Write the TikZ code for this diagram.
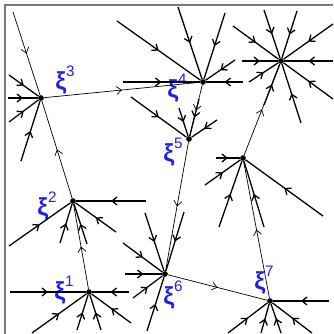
\documentclass[tikz,border=0pt]{standalone}
\usepackage{fontspec}
\setmainfont{Liberation Sans}
\usetikzlibrary{arrows.meta,decorations.markings}
\definecolor{labelblue}{HTML}{1E1EF0}
\definecolor{framegray}{HTML}{7A7A7A}

\begin{document}
\begin{tikzpicture}[x=0.3mm, y=-0.3mm,
    dot/.style={circle,fill,inner sep=0pt,minimum size=1.7mm},
    midarrow/.style={postaction={decorate},
      decoration={markings,mark=at position 0.5 with {\arrow{Straight Barb[length=1.5mm,width=2.4mm]}}}},
    link/.style={midarrow,line width=0.6pt},
    flow/.style={midarrow,line width=1.1pt},
    lbl/.style={text=labelblue,font=\fontsize{21}{21}\selectfont\bfseries,inner sep=0pt}]
    \useasboundingbox (0,0) rectangle (333,334);
    \draw[framegray,line width=0.9pt] (5,334) -- (5,5) -- (333,5);

    % equilibria
    \node[dot] (xi1) at (89,292) {};
    \node[dot] (xi2) at (73,201) {};
    \node[dot] (xi3) at (41,98) {};
    \node[dot] (xi4) at (203,82) {};
    \node[dot] (xi5) at (189,139) {};
    \node[dot] (xi6) at (165,274) {};
    \node[dot] (xi7) at (270,301) {};
    \node[dot] (q1) at (243,158) {};
    \node[dot] (q2) at (281,61) {};

    % labels
    \node[lbl] (lab1) at (64,290) {ξ\raisebox{1.0ex}{\fontsize{13}{13}\selectfont\mdseries 1}};
    \node[lbl] (lab2) at (47,206) {ξ\raisebox{1.0ex}{\fontsize{13}{13}\selectfont\mdseries 2}};
    \node[lbl] (lab3) at (65,80) {ξ\raisebox{1.0ex}{\fontsize{13}{13}\selectfont\mdseries 3}};
    \node[lbl] (lab4) at (177,88) {ξ\raisebox{1.0ex}{\fontsize{13}{13}\selectfont\mdseries 4}};
    \node[lbl] (lab5) at (173,152) {ξ\raisebox{1.0ex}{\fontsize{13}{13}\selectfont\mdseries 5}};
    \node[lbl] (lab6) at (173,295) {ξ\raisebox{1.0ex}{\fontsize{13}{13}\selectfont\mdseries 6}};
    \node[lbl] (lab7) at (264,280) {ξ\raisebox{1.0ex}{\fontsize{13}{13}\selectfont\mdseries 7}};

    % heteroclinic links
    \coordinate (top) at (13,12);
    \draw[link] (top) -- (xi3);
    \draw[link] (xi1) -- (xi2);
    \draw[link] (xi2) -- (xi3);
    \draw[link] (xi3) -- (xi4);
    \draw[link] (xi4) -- (xi5);
    \draw[link] (xi5) -- (xi6);
    \draw[link] (xi6) -- (xi7);
    \draw[link] (xi7) -- (q1);
    \draw[link] (q1) -- (q2);

    % incoming trajectories
    \foreach \x/\y [count=\i] in {10/292, 129/292, 32/333, 77/330, 101/330, 131/323}
      {\coordinate (a\i) at (\x,\y); \draw[flow] (a\i) -- (xi1);}
    \foreach \x/\y [count=\i] in {146/201, 9/246, 60/243, 87/244, 116/232}
      {\coordinate (b\i) at (\x,\y); \draw[flow] (b\i) -- (xi2);}
    \foreach \x/\y [count=\i] in {9/75, 8/98, 9/122, 21/161}
      {\coordinate (c\i) at (\x,\y); \draw[flow] (c\i) -- (xi3);}
    \foreach \x/\y [count=\i] in {178/7, 225/13, 117/21, 235/60, 123/82, 243/82}
      {\coordinate (d\i) at (\x,\y); \draw[flow] (d\i) -- (xi4);}
    \foreach \x/\y [count=\i] in {131/97, 179/108, 199/99, 217/120}
      {\coordinate (e\i) at (\x,\y); \draw[flow] (e\i) -- (xi5);}
    \foreach \x/\y [count=\i] in {145/213, 184/212, 123/243, 125/274, 133/298, 147/331}
      {\coordinate (f\i) at (\x,\y); \draw[flow] (f\i) -- (xi6);}
    \foreach \x/\y [count=\i] in {329/301, 228/333, 261/333, 281/333, 312/333}
      {\coordinate (g\i) at (\x,\y); \draw[flow] (g\i) -- (xi7);}
    \foreach \x/\y [count=\i] in {216/158, 205/185, 219/227, 264/227, 323/216}
      {\coordinate (h\i) at (\x,\y); \draw[flow] (h\i) -- (q1);}
    \foreach \x/\y [count=\i] in {264/10, 297/11, 233/26, 333/24, 242/61, 333/61, 249/82, 333/99, 301/123, 264/105}
      {\coordinate (k\i) at (\x,\y); \draw[flow] (k\i) -- (q2);}
\end{tikzpicture}
\end{document}
